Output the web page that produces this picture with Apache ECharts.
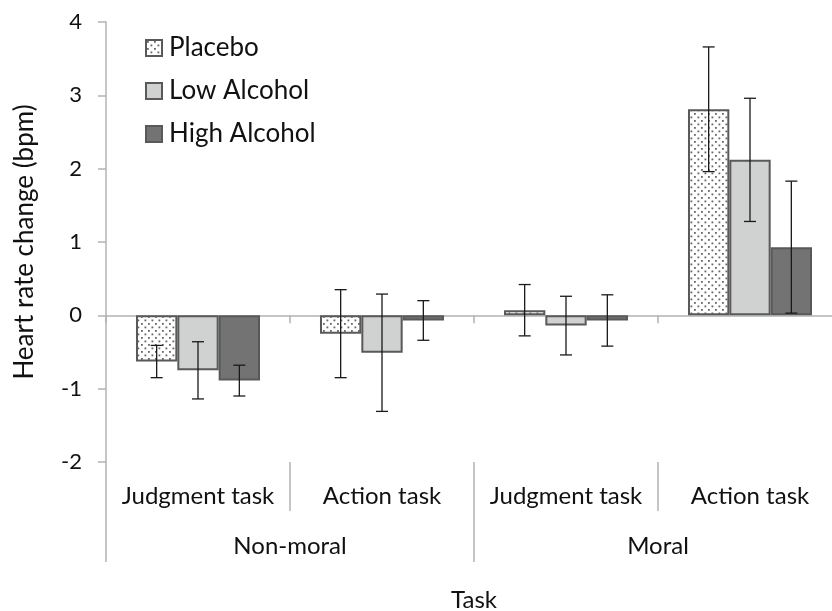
<!DOCTYPE html>
<html>
<head>
<meta charset="utf-8">
<script src="https://cdn.jsdelivr.net/npm/echarts@6/dist/echarts.min.js"></script>
<style>
html,body{margin:0;padding:0;background:#fff;}
#chart{width:832px;height:611px;}
</style>
</head>
<body>
<div id="chart"></div>
<script>
// ---- data ----
const taskLabels = ['Judgment task', 'Action task', 'Judgment task', 'Action task'];
const groupLabels = ['Non-moral', 'Moral'];
const seriesNames = ['Placebo', 'Low Alcohol', 'High Alcohol'];
const placebo = [-0.63, -0.25, 0.07, 2.81];
const lowAlcohol = [-0.75, -0.51, -0.14, 2.12];
const highAlcohol = [-0.89, -0.07, -0.07, 0.93];
const placeboErr = [0.22, 0.60, 0.35, 0.85];
const lowAlcoholErr = [0.39, 0.80, 0.40, 0.84];
const highAlcoholErr = [0.21, 0.27, 0.35, 0.90];
const yTicks = [-2, -1, 0, 1, 2, 3, 4];

// ---- styling ----
const FONT = 'Lato';
const TXT = '#111111';
const BAR_CAT_GAP = 0.326;
const pat = document.createElement('canvas');
pat.width = 7; pat.height = 7;
const pctx = pat.getContext('2d');
pctx.fillStyle = '#ffffff'; pctx.fillRect(0, 0, 7, 7);
pctx.fillStyle = '#666666';
pctx.fillRect(1, 1, 1.8, 1.8);
pctx.fillRect(4.5, 4.5, 1.8, 1.8);

const means = [placebo, lowAlcohol, highAlcohol];
const errs = [placeboErr, lowAlcoholErr, highAlcoholErr];
const fills = [{image: pat, repeat: 'repeat'}, '#d0d1d1', '#737373'];

const errData = [];
for (let s = 0; s < 3; s++) {
  for (let c = 0; c < taskLabels.length; c++) {
    errData.push([c, means[s][c], errs[s][c], s]);
  }
}

const chart = echarts.init(document.getElementById('chart'), null, {renderer: 'canvas'});

const barSeries = seriesNames.map((name, i) => ({
  name: name,
  type: 'bar',
  xAxisIndex: 0,
  data: means[i],
  barGap: '0%',
  barCategoryGap: (BAR_CAT_GAP * 100) + '%',
  itemStyle: {color: fills[i], borderColor: '#595959', borderWidth: 2},
  emphasis: {disabled: true},
  z: 2
}));

const option = {
  animation: false,
  backgroundColor: '#ffffff',
  textStyle: {fontFamily: FONT},
  grid: {left: 106, top: 22, width: 736, height: 440, containLabel: false, outerBoundsMode: 'none'},
  legend: {
    data: seriesNames,
    orient: 'vertical',
    left: 140,
    top: 30,
    itemWidth: 16,
    itemHeight: 16,
    itemGap: 17,
    icon: 'rect',
    textStyle: {fontFamily: FONT, fontSize: 26, color: TXT, padding: [0, 0, 0, 2]},
    itemStyle: {borderColor: '#595959', borderWidth: 2}
  },
  xAxis: [
    {
      type: 'category',
      data: taskLabels,
      position: 'bottom',
      axisLine: {onZero: true, lineStyle: {color: '#b3b3b3', width: 1.5}},
      axisTick: {show: true, length: 8, interval: 0, lineStyle: {color: '#b3b3b3', width: 1.5}},
      axisLabel: {show: false},
      splitLine: {show: false}
    },
    {
      type: 'category',
      data: taskLabels,
      position: 'bottom',
      axisLine: {show: false, onZero: false},
      axisTick: {show: true, length: 49, interval: 0, lineStyle: {color: '#b3b3b3', width: 1.5}},
      axisLabel: {show: true, interval: 0, margin: 22, fontFamily: FONT, fontSize: 24, color: TXT},
      splitLine: {show: false}
    },
    {
      type: 'category',
      data: groupLabels,
      position: 'bottom',
      name: 'Task',
      nameLocation: 'middle',
      nameGap: 126,
      nameTextStyle: {fontFamily: FONT, fontSize: 24, color: TXT},
      axisLine: {show: false, onZero: false},
      axisTick: {show: true, length: 100, interval: 0, lineStyle: {color: '#b3b3b3', width: 1.5}},
      axisLabel: {show: true, interval: 0, margin: 72, fontFamily: FONT, fontSize: 24, color: TXT},
      splitLine: {show: false}
    }
  ],
  yAxis: {
    type: 'value',
    min: yTicks[0],
    max: yTicks[yTicks.length - 1],
    interval: 1,
    name: 'Heart rate change (bpm)',
    nameLocation: 'middle',
    nameGap: 68,
    nameTextStyle: {fontFamily: FONT, fontSize: 26, color: TXT},
    axisLine: {show: true, lineStyle: {color: '#b3b3b3', width: 1.5}},
    axisTick: {show: true, length: 8, lineStyle: {color: '#b3b3b3', width: 1.5}},
    axisLabel: {margin: 24, fontFamily: FONT, fontSize: 22, color: TXT},
    splitLine: {show: false}
  },
  series: barSeries.concat([{
    type: 'custom',
    name: 'error',
    xAxisIndex: 0,
    silent: true,
    z: 5,
    encode: {x: 0, y: 1},
    data: errData,
    renderItem: function (params, api) {
      const c = api.value(0), m = api.value(1), e = api.value(2), s = api.value(3);
      const catW = api.size([1, 0])[0];
      const bw = catW * (1 - BAR_CAT_GAP) / 3;
      const cx = api.coord([c, m])[0] + (s - 1) * bw;
      const yt = api.coord([c, m + e])[1];
      const yb = api.coord([c, m - e])[1];
      const half = 6;
      const st = {stroke: '#1a1a1a', lineWidth: 1.3};
      return {
        type: 'group',
        children: [
          {type: 'line', shape: {x1: cx, y1: yt, x2: cx, y2: yb}, style: st},
          {type: 'line', shape: {x1: cx - half, y1: yt, x2: cx + half, y2: yt}, style: st},
          {type: 'line', shape: {x1: cx - half, y1: yb, x2: cx + half, y2: yb}, style: st}
        ]
      };
    }
  }])
};
chart.setOption(option);
</script>
</body>
</html>
